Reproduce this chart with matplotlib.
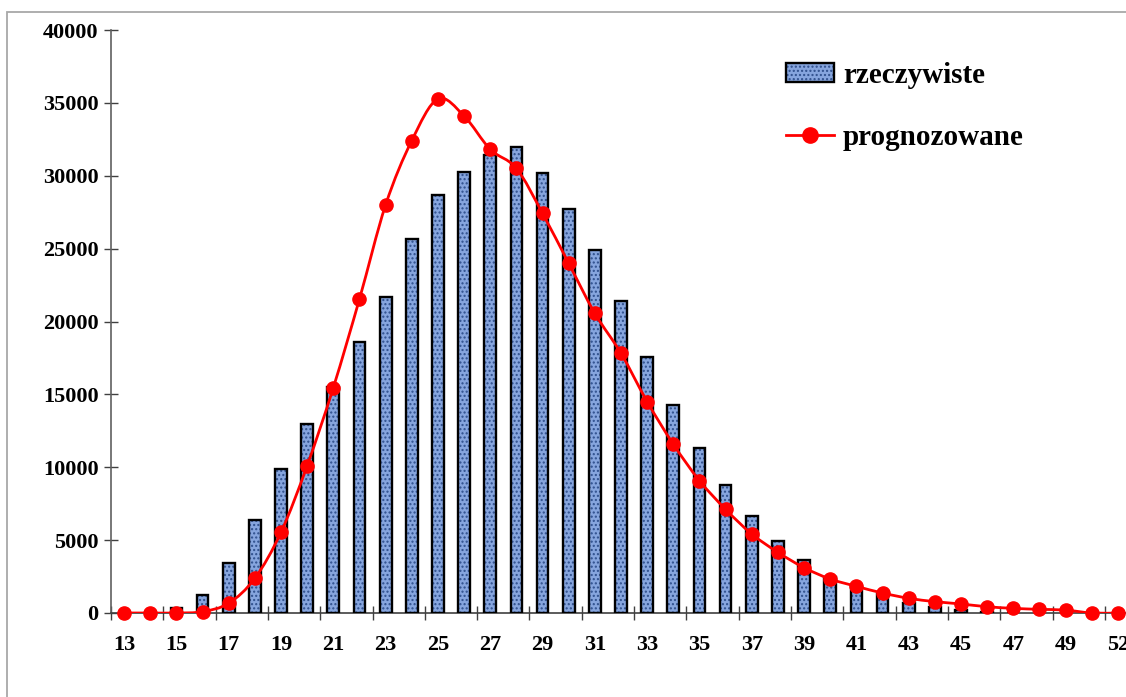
import numpy as np
import matplotlib
matplotlib.use("Agg")
import matplotlib.pyplot as plt
from matplotlib.path import Path
from matplotlib.patches import PathPatch, Rectangle
from matplotlib.lines import Line2D

# kategorie (wiek) i dane
wiek = [str(v) for v in range(13, 51)] + ["52"]
rzeczywiste = [0, 0, 330, 1230, 3400, 6380, 9900, 13000, 15500, 18600,
               21700, 25650, 28680, 30250, 31400, 32000, 30200, 27700, 24920, 21400,
               17580, 14300, 11300, 8770, 6680, 4970, 3610, 2450, 1800, 1330,
               710, 390, 200, 90, 0, 0, 0, 0, 0]
prognozowane = [0, 0, 0, 90, 670, 2380, 5540, 10110, 15460, 21540,
                28000, 32410, 35270, 34100, 31810, 30510, 27420, 23990, 20560, 17820,
                14500, 11580, 9080, 7110, 5420, 4160, 3110, 2330, 1830, 1370,
                1010, 780, 620, 430, 320, 250, 200, 0, 0]
y_ticks = list(range(0, 40001, 5000))

plt.rcParams['font.family'] = ['Liberation Serif', 'DejaVu Serif']
plt.rcParams['font.weight'] = 'bold'

fig = plt.figure(figsize=(11.26, 6.97), dpi=100)
W, H = 1126, 697
ax = fig.add_axes([111 / W, 1 - 613 / H, (1131 - 111) / W, (613 - 30) / H])

x = np.arange(len(wiek))

# slupki: wypelnienie z "tekstura" + czarna ramka
b_fill = ax.bar(x, rzeczywiste, width=0.45, color='#86a5de', hatch='....',
                edgecolor='#2f4f8c', linewidth=0, zorder=2)
b_edge = ax.bar(x, rzeczywiste, width=0.45, fill=False, edgecolor='black',
                linewidth=1.7, zorder=3)

# wygladzona linia (krzywe Beziera przez punkty danych)
pts = np.column_stack([x, prognozowane]).astype(float)
verts = [tuple(pts[0])]
codes = [Path.MOVETO]
n = len(pts)
for i in range(n - 1):
    p0 = pts[i - 1] if i > 0 else pts[i]
    p1 = pts[i]
    p2 = pts[i + 1]
    p3 = pts[i + 2] if i + 2 < n else pts[i + 1]
    c1 = p1 + (p2 - p0) / 6.0
    c2 = p2 - (p3 - p1) / 6.0
    verts += [tuple(c1), tuple(c2), tuple(p2)]
    codes += [Path.CURVE4] * 3
ax.add_patch(PathPatch(Path(verts, codes), fill=False, edgecolor='#ff0000',
                       linewidth=2.0, zorder=4))
ax.plot(x, prognozowane, linestyle='none', marker='o', markersize=9.5,
        color='#ff0000', zorder=5, clip_on=False)

ax.set_xlim(-0.5, len(wiek) - 0.5)
ax.set_ylim(0, 40000)

# os Y
ax.set_yticks(y_ticks)
ax.set_yticklabels([str(v) for v in y_ticks])
ax.tick_params(axis='y', direction='inout', length=10, width=1, color='#404040',
               labelsize=16, pad=4)

# os X: kreski miedzy kategoriami co 2, etykiety na srodku
ax.set_xticks(np.arange(-0.5, len(wiek) - 1, 2))
ax.set_xticklabels([])
ax.tick_params(axis='x', which='major', direction='inout', length=9.5, width=1,
               color='#404040')
lab_idx = list(range(0, len(wiek), 2))
ax.set_xticks(lab_idx, minor=True)
ax.set_xticklabels([wiek[i] for i in lab_idx], minor=True)
ax.tick_params(axis='x', which='minor', length=0, labelsize=16, pad=16)

for s in ['top', 'right']:
    ax.spines[s].set_visible(False)
ax.spines['left'].set_color('#606060')
ax.spines['bottom'].set_color('#404040')
ax.spines['left'].set_linewidth(1.2)
ax.spines['bottom'].set_linewidth(1.2)
ax.patch.set_visible(False)

line_handle = Line2D([], [], color='#ff0000', linewidth=2.0, marker='o',
                     markersize=11)
leg = fig.legend([(b_fill[0], b_edge[0]), line_handle], ['rzeczywiste', 'prognozowane'],
                 loc='upper left', bbox_to_anchor=(786 / W, 1 - 62 / H),
                 bbox_transform=fig.transFigure, frameon=False, fontsize=21,
                 handlelength=1.65, handleheight=0.6, handletextpad=0.3,
                 labelspacing=1.2, borderpad=0, borderaxespad=0)

# ramka obszaru wykresu
fig.patches.append(Rectangle((7 / W, -0.1), 1.2, 1 - 12 / H + 0.1, fill=False,
                             edgecolor='#a8a8a8', linewidth=1.3,
                             transform=fig.transFigure, figure=fig))

fig.savefig('out.png', dpi=100)
